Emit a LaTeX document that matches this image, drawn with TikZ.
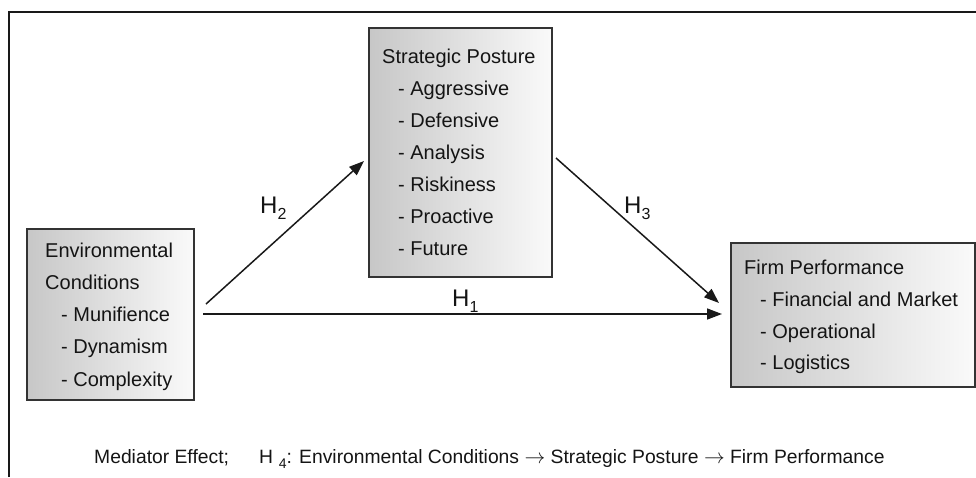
\documentclass[tikz,border=0pt]{standalone}
\usepackage{fontspec}
\setmainfont{Liberation Sans}
\usetikzlibrary{arrows.meta,calc}
\begin{document}
\begin{tikzpicture}[x=1pt,y=-1pt,
  box/.style={draw=black!80, line width=2pt, left color=black!22, right color=black!2, rectangle, inner sep=0pt, anchor=north west},
  txt/.style={anchor=base west, inner sep=0pt, font=\fontsize{20}{23}\selectfont, text=black!92},
  foottxt/.style={anchor=base west, inner sep=0pt, font=\fontsize{19.3}{23}\selectfont, text=black!92},
  hl/.style={anchor=base west, inner sep=0pt, font=\fontsize{24}{28}\selectfont, text=black!92},
  arr/.style={line width=1.5pt, draw=black!90, -{Triangle[length=15pt,width=11pt]}},
  frame/.style={line width=2pt, draw=black!90}]
\useasboundingbox (0,0) rectangle (976,477);
\draw[frame] (9,477) -- (9,12) -- (976,12);

% boxes
\node[box, minimum width=167pt, minimum height=171pt] (env) at (26,228) {};
\node[box, minimum width=183pt, minimum height=249pt] (sp) at (368,27) {};
\node[box, minimum width=244pt, minimum height=144pt] (fp) at (730,242) {};

% environmental conditions text
\node[txt] (e1) at (45,257) {Environmental};
\node[txt] (e2) at (45,289) {Conditions};
\node[txt] (e3) at (61,321) {- Munifience};
\node[txt] (e4) at (61,353) {- Dynamism};
\node[txt] (e5) at (61,386) {- Complexity};

% strategic posture text
\node[txt] (s0) at (382,63) {Strategic Posture};
\node[txt] (s1) at (398,95) {- Aggressive};
\node[txt] (s2) at (398,127) {- Defensive};
\node[txt] (s3) at (398,159) {- Analysis};
\node[txt] (s4) at (398,191) {- Riskiness};
\node[txt] (s5) at (398,223) {- Proactive};
\node[txt] (s6) at (398,255) {- Future};

% firm performance text
\node[txt] (f0) at (744,274) {Firm Performance};
\node[txt] (f1) at (760,306) {- Financial and Market};
\node[txt] (f2) at (760,338) {- Operational};
\node[txt] (f3) at (760,369) {- Logistics};

% connectors
\draw[arr] ([shift={(11,76)}]env.north east) -- ([shift={(-4,134)}]sp.north west);
\draw[arr] ([shift={(8,86)}]env.north east) -- ([shift={(-8,72)}]fp.north west);
\draw[arr] ([shift={(3,131)}]sp.north east) -- ([shift={(-11,61)}]fp.north west);

% labels
\node[hl] (h2) at (260,213) {H\raisebox{-6pt}{\fontsize{16}{16}\selectfont 2}};
\node[hl] (h1) at (452,306) {H\raisebox{-6pt}{\fontsize{16}{16}\selectfont 1}};
\node[hl] (h3) at (624,213) {H\raisebox{-6pt}{\fontsize{16}{16}\selectfont 3}};

% footer
\node[foottxt] (foot) at (94,463) {Mediator Effect;\hspace{30pt}H\hspace{6pt}\raisebox{-5pt}{\fontsize{14}{14}\selectfont 4}: Environmental Conditions $\rightarrow$ Strategic Posture $\rightarrow$ Firm Performance};
\end{tikzpicture}
\end{document}
